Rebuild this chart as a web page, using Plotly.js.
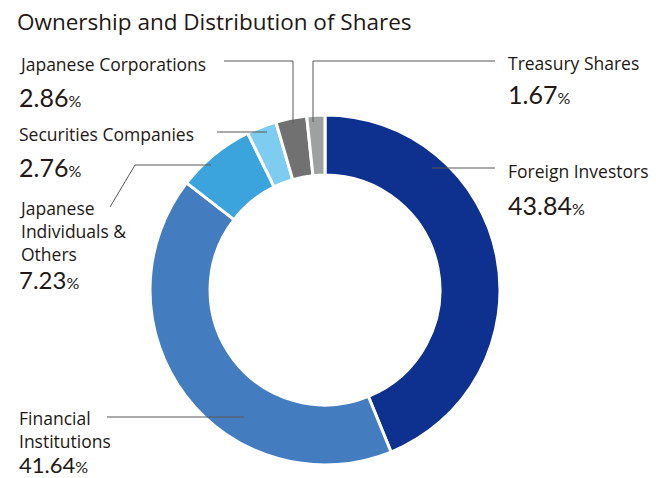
<!DOCTYPE html>
<html>
<head>
<meta charset="utf-8">
<script src="https://cdn.plot.ly/plotly-3.0.1.min.js"></script>
<style>html,body{margin:0;padding:0;background:#fff;}#chart{width:656px;height:478px;}</style>
</head>
<body>
<div id="chart"></div>
<script>
// ---- data ----
const categories = ["Foreign Investors", "Financial Institutions", "Japanese Individuals & Others", "Securities Companies", "Japanese Corporations", "Treasury Shares"];
const shares = [43.84, 41.64, 7.23, 2.76, 2.86, 1.67];
const labelTexts = ["Foreign Investors", "Financial<br>Institutions", "Japanese<br>Individuals &<br>Others", "Securities Companies", "Japanese Corporations", "Treasury Shares"];
const sliceColors = ["#0E318F", "#447DBF", "#3CA4DC", "#7FCCF1", "#727171", "#9FA0A0"];

// ---- layout helpers ----
const W = 656, H = 478;
const px = x => x / W;
const py = y => 1 - y / H;
const LFONT = "'Open Sans', Lato, sans-serif";
const NFONT = "Lato, 'Open Sans', sans-serif";
const TXT = "#231815";
const LSIZE = 17.5;

function numText(v) {
  return v.toFixed(2) + '<span style="font-size:16px">%</span>';
}

// label placement (pixels): [x, firstLabelLineCenterY, numberCenterY, numberSize]
const place = [
  [507, 169, 205, 25],
  [18, 416, 464.5, 22],
  [18, 206, 279, 24],
  [18, 132, 167, 25],
  [18, 62, 97, 25],
  [507, 61, 94, 25]
];

const annotations = [];
categories.forEach((c, i) => {
  const p = place[i];
  annotations.push({
    xref: 'paper', yref: 'paper', x: px(p[0] - 1), y: py(p[1] - LSIZE * 0.66),
    xanchor: 'left', yanchor: 'top', showarrow: false, align: 'left',
    text: labelTexts[i], font: {family: LFONT, size: LSIZE, color: TXT}
  });
  annotations.push({
    xref: 'paper', yref: 'paper', x: px(p[0] - 1), y: py(p[2]),
    xanchor: 'left', yanchor: 'middle', showarrow: false, align: 'left',
    text: numText(shares[i]), font: {family: NFONT, size: p[3], color: TXT}
  });
});

function pathFrom(points) {
  return points.map((pt, k) => (k ? 'L' : 'M') + px(pt[0]) + ',' + py(pt[1])).join(' ');
}
const leaders = [
  [[495, 168], [432, 168]],
  [[107, 417], [244, 417]],
  [[110, 207], [135, 165], [211, 165]],
  [[217, 132], [267, 132]],
  [[224, 61], [293, 61], [293, 123]],
  [[495, 61], [313, 61], [313, 122]]
];
const shapes = leaders.map(pts => ({
  type: 'path', xref: 'paper', yref: 'paper', path: pathFrom(pts),
  line: {color: '#595757', width: 1}, layer: 'above'
}));

const data = [{
  type: 'pie',
  labels: categories,
  values: shares,
  sort: false,
  direction: 'clockwise',
  rotation: 0,
  hole: 0.657,
  textinfo: 'none',
  hoverinfo: 'label+percent',
  marker: {colors: sliceColors, line: {color: '#ffffff', width: 3}},
  domain: {x: [px(150), px(500)], y: [py(465), py(115)]},
  showlegend: false
}];

const layout = {
  width: W, height: H,
  margin: {l: 0, r: 0, t: 0, b: 0},
  paper_bgcolor: '#ffffff',
  showlegend: false,
  title: {
    text: 'Ownership and Distribution of Shares',
    x: px(17), xanchor: 'left', xref: 'paper',
    y: py(22), yanchor: 'middle', yref: 'paper',
    font: {family: LFONT, size: 22.5, color: TXT}
  },
  annotations: annotations,
  shapes: shapes
};

Plotly.newPlot('chart', data, layout, {displayModeBar: false, staticPlot: true});
</script>
</body>
</html>
